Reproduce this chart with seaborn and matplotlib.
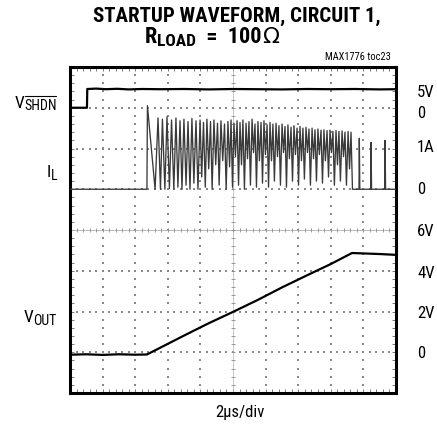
# Scope capture: startup waveform, circuit 1 (MAX1776 toc23)
import numpy as np
import matplotlib
matplotlib.use('Agg')
import matplotlib.pyplot as plt
import seaborn as sns
from matplotlib import font_manager
from matplotlib.lines import Line2D
from matplotlib.ticker import MultipleLocator

# ------------------------------------------------
# Data (time in us)

shdn_t = [0.0, 1.04, 1.06, 1.6, 2.2, 2.9, 3.6, 4.4, 5.5, 7.0, 8.5, 10.0, 11.5, 13.0, 14.5, 16.0, 17.5, 19.0, 20.0]
shdn_v = [0.0, 0.0, 4.6, 4.7, 4.55, 4.65, 4.5, 4.6, 4.55, 4.6, 4.5, 4.6, 4.55, 4.5, 4.6, 4.55, 4.6, 4.5, 4.55]

il_t = [0.0, 4.72, 4.75, 5.22,
        5.40, 5.55, 5.67, 5.82, 5.95, 6.10, 6.23, 6.37, 6.50, 6.62, 6.75, 6.87, 6.99, 7.12, 7.24, 7.36,
        7.48, 7.60, 7.73, 7.85, 7.98, 8.08, 8.19, 8.30, 8.40, 8.51, 8.62, 8.72, 8.83, 8.94, 9.05, 9.15,
        9.26, 9.37, 9.48, 9.58, 9.69, 9.79, 9.88, 9.97, 10.06, 10.15, 10.25, 10.34, 10.43, 10.52, 10.61, 10.70,
        10.80, 10.89, 10.98, 11.07, 11.17, 11.26, 11.35, 11.44, 11.53, 11.62, 11.72, 11.81, 11.90, 11.99,
        12.09, 12.18, 12.27, 12.36, 12.45, 12.54, 12.64, 12.73, 12.82, 12.91, 13.01, 13.10, 13.19, 13.28,
        13.37, 13.46, 13.56, 13.65, 13.74, 13.83, 13.93, 14.02, 14.11, 14.20, 14.29, 14.38, 14.48, 14.57,
        14.66, 14.75, 14.85, 14.94, 15.03, 15.12, 15.21, 15.30, 15.40, 15.49, 15.58, 15.67, 15.77, 15.86,
        15.95, 16.04, 16.13, 16.22, 16.32, 16.41, 16.50, 16.59, 16.69, 16.78, 16.87, 16.96, 17.06, 17.15,
        17.24, 17.33,
        17.73, 17.75, 17.78, 18.45, 18.47, 18.50, 19.31, 19.33, 19.36, 20.0]
il_a = [0.0, 0.0, 2.05, 0.0,
        1.75, 0.0, 1.72, 0.0, 1.78, 0.02, 1.70, 0.0, 1.75, 0.05, 1.68, 0.0, 1.72, 0.1, 1.66, 0.0,
        1.74, 0.15, 1.68, 0.0, 1.70, 0.3, 1.64, 0.05, 1.72, 0.5, 1.66, 0.0, 1.70, 0.6, 1.62, 0.1,
        1.68, 0.7, 1.60, 0.0, 1.66, 0.55, 1.70, 0.05, 1.62, 0.8, 1.68, 0.1, 1.64, 0.6, 1.70, 0.0,
        1.62, 0.75, 1.66, 0.1, 1.72, 0.9, 1.60, 0.05, 1.66, 0.7, 1.64, 0.15, 1.68, 0.85,
        1.58, 0.05, 1.64, 0.7, 1.60, 0.2, 1.62, 0.8, 1.56, 0.1, 1.60, 0.9, 1.54, 0.05,
        1.58, 0.75, 1.52, 0.2, 1.56, 0.85, 1.50, 0.1, 1.54, 0.7, 1.50, 0.25, 1.52, 0.9,
        1.48, 0.1, 1.50, 0.75, 1.46, 0.2, 1.48, 0.85, 1.45, 0.15, 1.46, 0.7, 1.44, 0.3,
        1.45, 0.9, 1.42, 0.1, 1.44, 0.6, 1.42, 0.2, 1.43, 0.8, 1.40, 0.1, 1.42, 0.5,
        1.40, 0.0,
        0.0, 1.25, 0.0, 0.0, 1.15, 0.0, 0.0, 1.20, 0.0, 0.0]

vout_t = [0.0, 1.0, 2.0, 3.0, 4.0, 4.72, 7.0, 8.5, 10.0, 11.5, 13.0, 14.5, 16.0, 17.3, 18.0, 19.0, 20.0]
vout_v = [-0.12, -0.1, -0.13, -0.1, -0.12, -0.11, 0.82, 1.42, 1.98, 2.56, 3.18, 3.76, 4.33, 4.87, 4.85, 4.82, 4.78]

right_labels = ['5V', '0', '1A', '0', '6V', '4V', '2V', '0']

# ------------------------------------------------
# Screen layout: 10 x 8 divisions, 2us/div

# channel -> (zero division, units per division)
SHDN_CH = (7, 10.0)
IL_CH = (5, 1.0)
VOUT_CH = (1, 2.0)


def to_div(values, ch):
    zero, per_div = ch
    return [zero + v / per_div for v in values]


W, H = 437, 426
L, R, T, B = 70, 396, 67, 393

# narrow font if there is one, otherwise an Arial-like one
names = {f.name for f in font_manager.fontManager.ttflist}
font = 'Liberation Sans'
for cand in ['Liberation Sans Narrow', 'Roboto Condensed', 'Open Sans Condensed']:
    if cand in names:
        font = cand
        break

sns.set_style('white')
plt.rcParams['font.family'] = [font, 'DejaVu Sans']
plt.rcParams['text.color'] = 'black'

fig = plt.figure(figsize=(W / 100, H / 100), dpi=100)
ax = fig.add_axes([L / W, 1 - B / H, (R - L) / W, (B - T) / H])
ax.set_xlim(0, 20)
ax.set_ylim(0, 8)

# graticule dots
grid_col = '#8a8a8a'
for gx in [2, 4, 6, 8, 12, 14, 16, 18]:
    ys = np.arange(0.2, 8, 0.2)
    ax.scatter(np.full(len(ys), gx), ys, s=1.3, marker='s', color=grid_col, linewidths=0, zorder=1)
for gy in [1, 2, 3, 5, 6, 7]:
    xs = np.arange(0.4, 20, 0.4)
    ax.scatter(xs, np.full(len(xs), gy), s=1.3, marker='s', color=grid_col, linewidths=0, zorder=1)

# center cross with fine ticks
ax.axvline(10, color='#b0b0b0', lw=0.5, zorder=1)
ax.axhline(4, color='#b0b0b0', lw=0.6, zorder=1)
ys = np.arange(0.2, 8, 0.2)
ax.scatter(np.full(len(ys), 10), ys, s=10, marker='_', color=grid_col, linewidths=0.6, zorder=1)
xs = np.arange(0.4, 20, 0.4)
ax.scatter(xs, np.full(len(xs), 4), s=10, marker='|', color=grid_col, linewidths=0.6, zorder=1)

# traces
sns.lineplot(x=il_t, y=to_div(il_a, IL_CH), estimator=None, sort=False,
             color='#3a3a3a', lw=0.95, ax=ax, zorder=3)
sns.lineplot(x=shdn_t, y=to_div(shdn_v, SHDN_CH), estimator=None, sort=False,
             color='black', lw=1.6, ax=ax, zorder=4)
sns.lineplot(x=vout_t, y=to_div(vout_v, VOUT_CH), estimator=None, sort=False,
             color='black', lw=1.6, ax=ax, zorder=4)

# frame and edge ticks
for sp in ax.spines.values():
    sp.set_linewidth(2.2)
    sp.set_color('black')
ax.xaxis.set_major_locator(MultipleLocator(2))
ax.xaxis.set_minor_locator(MultipleLocator(0.4))
ax.yaxis.set_major_locator(MultipleLocator(1))
ax.yaxis.set_minor_locator(MultipleLocator(0.2))
ax.tick_params(which='both', direction='in', length=3, width=0.6, color='#666666',
               top=True, right=True, bottom=True, left=True,
               labelbottom=False, labelleft=False)
ax.set_xlabel('')
ax.set_ylabel('')

# ------------------------------------------------
# Text (positions in pixels from top-left)

renderer = fig.canvas.get_renderer()


def px(x, y):
    return x / W, 1 - y / H


def put(x, y, s, size, **kw):
    kw.setdefault('ha', 'left')
    kw.setdefault('va', 'baseline')
    return fig.text(*px(x, y), s, fontsize=size, **kw)


def chain(x, y, pieces, align='left'):
    # pieces: (text, size, drop in px, extra kwargs); laid side by side
    texts = []
    widths = []
    for s, size, dy, kw in pieces:
        t = put(0, y + dy, s, size, **kw)
        texts.append(t)
        widths.append(t.get_window_extent(renderer).width)
    total = sum(widths)
    start = {'left': x, 'right': x - total, 'center': x - total / 2}[align]
    pos = start
    for t, w in zip(texts, widths):
        t.set_x(pos / W)
        pos += w
    return texts, start


put(237, 22, 'STARTUP WAVEFORM, CIRCUIT 1,', 15, ha='center', fontweight='bold')
bold = {'fontweight': 'bold'}
chain(212, 43, [('R', 16, 0, bold), ('LOAD', 12.5, 3, bold), ('  =  100', 16, 0, bold),
                ('Ω', 16, 0, {'family': 'DejaVu Sans'})], align='center')
put(391, 60, 'MAX1776 toc23', 7.5, ha='right')

# channel names
_, sx = chain(57, 108, [('V', 12.5, 0, {}), ('SHDN', 10, 2, {})], align='right')
v_w = fig.texts[-2].get_window_extent(renderer).width
fig.add_artist(Line2D([(sx + v_w) / W, 56 / W], [1 - 96 / H, 1 - 96 / H], color='black', lw=0.8))
chain(57, 177, [('I', 12.5, 0, {}), ('L', 10, 3, {})], align='right')
chain(57, 322, [('V', 12.5, 0, {}), ('OUT', 10, 3, {})], align='right')

right_y = [93, 113, 148, 190, 232, 273, 313, 354]
for lab, yy in zip(right_labels, right_y):
    put(417, yy, lab, 12, va='center')

put(240, 413, '2μs/div', 12, ha='center', va='center')

fig.savefig('out.png', dpi=100)
